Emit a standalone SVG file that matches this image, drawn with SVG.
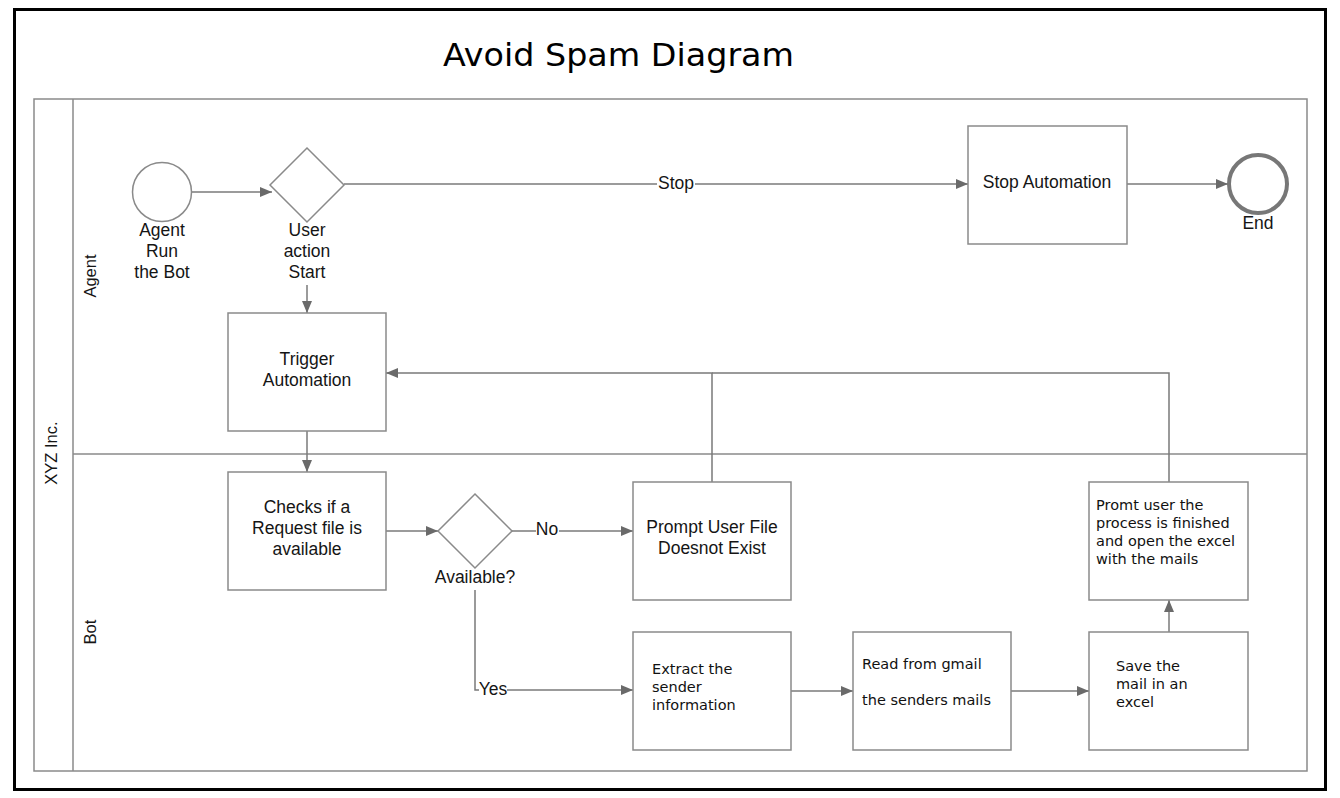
<svg xmlns="http://www.w3.org/2000/svg" width="1340" height="798" viewBox="0 0 1340 798">
<style>
.box{fill:#fff;stroke:#8a8a8a;stroke-width:1.5}
.ln{fill:none;stroke:#7a7a7a;stroke-width:1.5}
.lbl{font-family:"Liberation Sans",Arial,sans-serif;font-size:17.5px;fill:#151515;text-anchor:middle}
.tl{font-family:"DejaVu Sans",Verdana,sans-serif;font-size:14.5px;fill:#111}
.lane{font-family:"Liberation Sans",Arial,sans-serif;font-size:16.5px;fill:#151515;text-anchor:middle}
</style>
<defs>
<marker id="ah" viewBox="0 0 12 10" refX="12" refY="5" markerWidth="12" markerHeight="10" markerUnits="userSpaceOnUse" orient="auto">
<path d="M0,0 L12,5 L0,10 z" fill="#6a6a6a"/>
</marker>
</defs>
<rect x="0" y="0" width="1340" height="798" fill="#fff"/>
<rect x="14.5" y="9.5" width="1311" height="780" fill="none" stroke="#000" stroke-width="3"/>
<text x="443" y="66" font-family="DejaVu Sans, Verdana, sans-serif" font-size="32" fill="#000" textLength="351" lengthAdjust="spacingAndGlyphs">Avoid Spam Diagram</text>

<g id="pool">
<rect x="34" y="99" width="1273" height="672" fill="none" stroke="#8a8a8a" stroke-width="1.5"/>
<line x1="73" y1="99" x2="73" y2="771" stroke="#8a8a8a" stroke-width="1.5"/>
<line x1="73" y1="454" x2="1307" y2="454" stroke="#8a8a8a" stroke-width="1.5"/>
<text class="lane" transform="translate(57,453) rotate(-90)">XYZ Inc.</text>
<text class="lane" transform="translate(96,276) rotate(-90)">Agent</text>
<text class="lane" transform="translate(96,632) rotate(-90)">Bot</text>
</g>

<g id="connectors">
<line class="ln" x1="192" y1="192" x2="272" y2="192" marker-end="url(#ah)"/>
<line class="ln" x1="344" y1="184" x2="657" y2="184"/>
<line class="ln" x1="695" y1="184" x2="968" y2="184" marker-end="url(#ah)"/>
<line class="ln" x1="1127" y1="184" x2="1228" y2="184" marker-end="url(#ah)"/>
<line class="ln" x1="307" y1="285" x2="307" y2="313" marker-end="url(#ah)"/>
<line class="ln" x1="307" y1="431" x2="307" y2="472" marker-end="url(#ah)"/>
<line class="ln" x1="386" y1="531" x2="438" y2="531" marker-end="url(#ah)"/>
<line class="ln" x1="512" y1="531" x2="536" y2="531"/>
<line class="ln" x1="559" y1="531" x2="633" y2="531" marker-end="url(#ah)"/>
<polyline class="ln" points="712,482 712,373 386,373" marker-end="url(#ah)"/>
<polyline class="ln" points="1169,482 1169,373 712,373"/>
<polyline class="ln" points="475,590 475,690 479,690"/>
<line class="ln" x1="507" y1="690" x2="633" y2="690" marker-end="url(#ah)"/>
<line class="ln" x1="791" y1="691" x2="853" y2="691" marker-end="url(#ah)"/>
<line class="ln" x1="1011" y1="691" x2="1089" y2="691" marker-end="url(#ah)"/>
<line class="ln" x1="1169" y1="632" x2="1169" y2="600" marker-end="url(#ah)"/>
<text class="lbl" x="676" y="189">Stop</text>
<text class="lbl" x="547" y="535">No</text>
<text class="lbl" x="493" y="695">Yes</text>
</g>

<g id="start">
<circle cx="162" cy="192" r="29.5" fill="#fff" stroke="#8a8a8a" stroke-width="1.5"/>
<text class="lbl" x="162" y="236">Agent</text>
<text class="lbl" x="162" y="257">Run</text>
<text class="lbl" x="162" y="278">the Bot</text>
</g>

<g id="gateway-user">
<polygon class="box" points="307,148 344,185 307,222 270,185"/>
<text class="lbl" x="307" y="236">User</text>
<text class="lbl" x="307" y="257">action</text>
<text class="lbl" x="307" y="278">Start</text>
</g>

<g id="stop-automation">
<rect class="box" x="968" y="126" width="159" height="118"/>
<text class="lbl" x="1047" y="188">Stop Automation</text>
</g>

<g id="end">
<circle cx="1258" cy="184" r="29" fill="#fff" stroke="#777" stroke-width="4"/>
<text class="lbl" x="1258" y="229">End</text>
</g>

<g id="trigger">
<rect class="box" x="228" y="313" width="158" height="118"/>
<text class="lbl" x="307" y="365">Trigger</text>
<text class="lbl" x="307" y="386">Automation</text>
</g>

<g id="checks">
<rect class="box" x="228" y="472" width="158" height="118"/>
<text class="lbl" x="307" y="513">Checks if a</text>
<text class="lbl" x="307" y="534">Request file is</text>
<text class="lbl" x="307" y="555">available</text>
</g>

<g id="available">
<polygon class="box" points="475,494 512,531 475,568 438,531"/>
<text class="lbl" x="475" y="583">Available?</text>
</g>

<g id="prompt-not-exist">
<rect class="box" x="633" y="482" width="158" height="118"/>
<text class="lbl" x="712" y="533">Prompt User File</text>
<text class="lbl" x="712" y="554">Doesnot Exist</text>
</g>

<g id="extract">
<rect class="box" x="633" y="632" width="158" height="118"/>
<text class="tl" x="652" y="674">Extract the</text>
<text class="tl" x="652" y="692">sender</text>
<text class="tl" x="652" y="710">information</text>
</g>

<g id="read">
<rect class="box" x="853" y="632" width="158" height="118"/>
<text class="tl" x="862" y="669">Read from gmail</text>
<text class="tl" x="862" y="705">the senders mails</text>
</g>

<g id="save">
<rect class="box" x="1089" y="632" width="159" height="118"/>
<text class="tl" x="1116" y="671">Save the</text>
<text class="tl" x="1116" y="689">mail in an</text>
<text class="tl" x="1116" y="707">excel</text>
</g>

<g id="prompt-finished">
<rect class="box" x="1089" y="482" width="159" height="118"/>
<text class="tl" x="1096" y="510">Promt user the</text>
<text class="tl" x="1096" y="528">process is finished</text>
<text class="tl" x="1096" y="546">and open the excel</text>
<text class="tl" x="1096" y="564">with the mails</text>
</g>
</svg>
